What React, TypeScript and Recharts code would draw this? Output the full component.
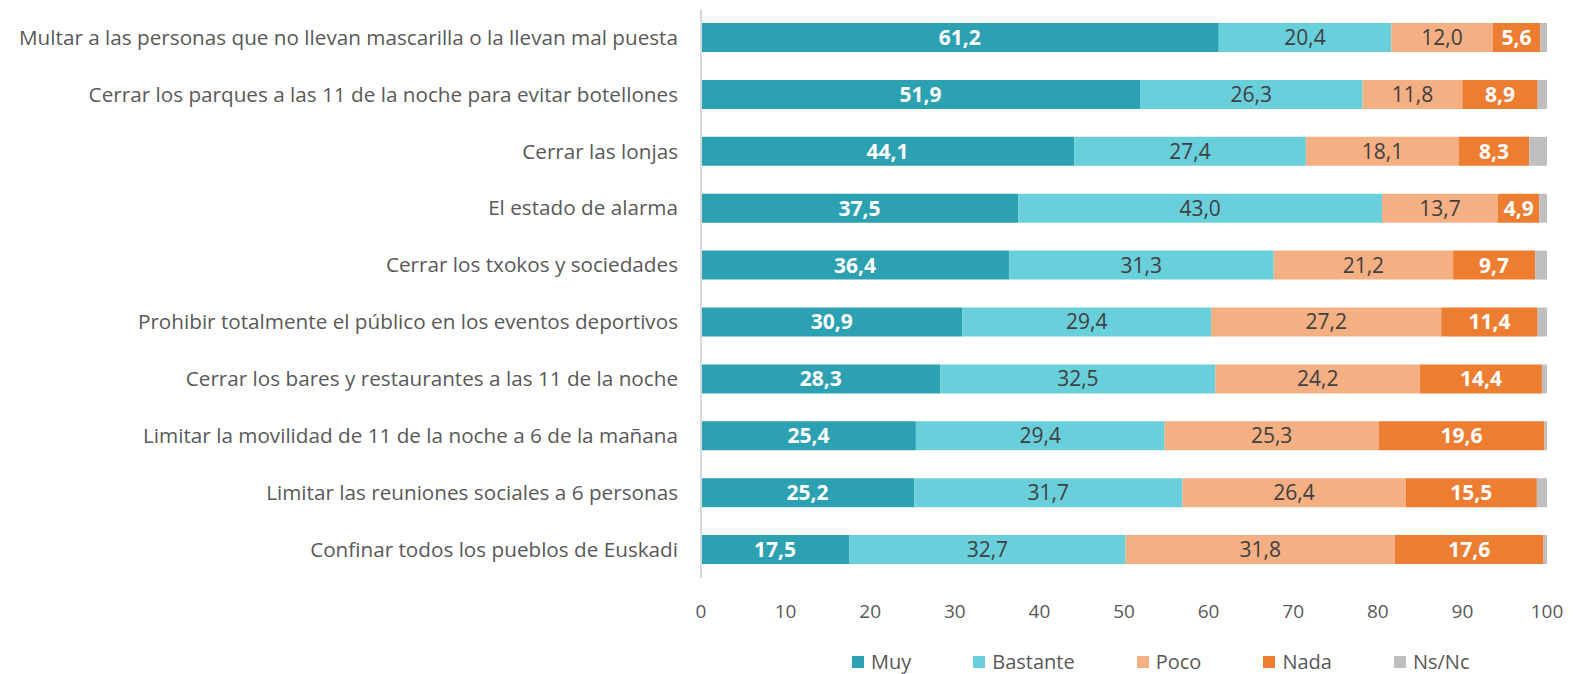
import { Bar, BarChart, LabelList, Legend, XAxis, YAxis } from "recharts";

const medidas = [
  "Multar a las personas que no llevan mascarilla o la llevan mal puesta",
  "Cerrar los parques a las 11 de la noche para evitar botellones",
  "Cerrar las lonjas",
  "El estado de alarma",
  "Cerrar los txokos y sociedades",
  "Prohibir totalmente el público en los eventos deportivos",
  "Cerrar los bares y restaurantes a las 11 de la noche",
  "Limitar la movilidad de 11 de la noche a 6 de la mañana",
  "Limitar las reuniones sociales a 6 personas",
  "Confinar todos los pueblos de Euskadi",
];

const muy = [61.2, 51.9, 44.1, 37.5, 36.4, 30.9, 28.3, 25.4, 25.2, 17.5];
const bastante = [20.4, 26.3, 27.4, 43.0, 31.3, 29.4, 32.5, 29.4, 31.7, 32.7];
const poco = [12.0, 11.8, 18.1, 13.7, 21.2, 27.2, 24.2, 25.3, 26.4, 31.8];
const nada = [5.6, 8.9, 8.3, 4.9, 9.7, 11.4, 14.4, 19.6, 15.5, 17.6];
const nsnc = [0.8, 1.1, 2.1, 0.9, 1.4, 1.1, 0.6, 0.3, 1.2, 0.4];

const xTicks = [0, 10, 20, 30, 40, 50, 60, 70, 80, 90, 100];

const data = medidas.map((m, i) => ({
  medida: m,
  muy: muy[i],
  bastante: bastante[i],
  poco: poco[i],
  nada: nada[i],
  nsnc: nsnc[i],
}));

const series = [
  { key: "muy", name: "Muy", color: "#2CA1B2", label: "#ffffff", bold: true },
  { key: "bastante", name: "Bastante", color: "#69CFDA", label: "#404040", bold: false },
  { key: "poco", name: "Poco", color: "#F4AF83", label: "#404040", bold: false },
  { key: "nada", name: "Nada", color: "#ED7D31", label: "#ffffff", bold: true },
  { key: "nsnc", name: "Ns/Nc", color: "#BFBFBF", label: "", bold: false },
];

const font = "'Open Sans', sans-serif";
const fmt = (v: any) => Number(v).toFixed(1).replace(".", ",");

// leyenda a mano, estilo Excel
const LegendBox = () => (
  <div
    style={{
      display: "flex",
      gap: 62,
      fontFamily: font,
      fontSize: 20,
      lineHeight: "24px",
      color: "#595959",
      paddingLeft: 852,
      paddingTop: 28,
    }}
  >
    {series.map((s) => (
      <div key={s.key} style={{ display: "flex", alignItems: "center", gap: 7 }}>
        <span style={{ width: 12, height: 12, background: s.color, display: "inline-block" }} />
        <span>{s.name}</span>
      </div>
    ))}
  </div>
);

export default function App() {
  return (
    <div>
      <style>{`body{margin:0}`}</style>
      <BarChart
        width={1586}
        height={674}
        data={data}
        layout="vertical"
        margin={{ top: 9, right: 39, left: 0, bottom: 0 }}
        barSize={29}
      >
        <XAxis
          type="number"
          domain={[0, 100]}
          ticks={xTicks}
          axisLine={false}
          tickLine={false}
          tickSize={0}
          tickMargin={27}
          height={44}
          tick={{ fill: "#595959", fontSize: 19, fontFamily: font }}
        />
        <YAxis
          type="category"
          dataKey="medida"
          width={701}
          axisLine={{ stroke: "#D9D9D9", strokeWidth: 2 }}
          tickLine={false}
          tickSize={0}
          tickMargin={23}
          tick={{ fill: "#595959", fontSize: 20.7, fontFamily: font }}
        />
        <Legend verticalAlign="bottom" height={52} content={<LegendBox />} />
        {series.map((s) => (
          <Bar
            key={s.key}
            dataKey={s.key}
            name={s.name}
            stackId="a"
            fill={s.color}
            isAnimationActive={false}
          >
            {s.label && (
              <LabelList
                dataKey={s.key}
                position="center"
                formatter={fmt}
                fill={s.label}
                style={{
                  fontFamily: font,
                  fontSize: 21,
                  fontWeight: s.bold ? 700 : 400,
                }}
              />
            )}
          </Bar>
        ))}
      </BarChart>
    </div>
  );
}
